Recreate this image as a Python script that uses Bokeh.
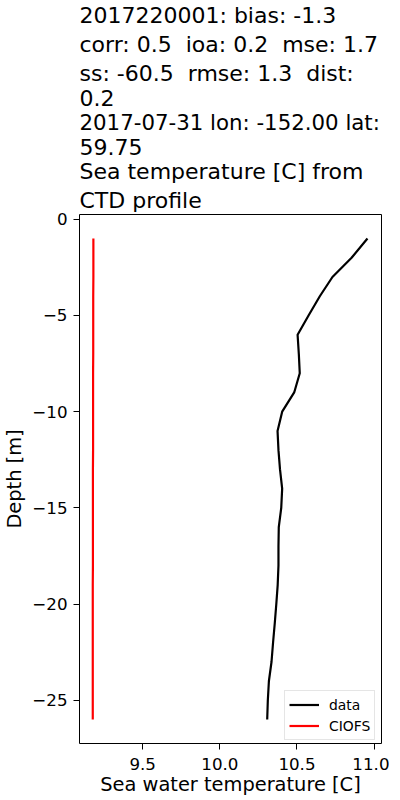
from bokeh.plotting import figure
from bokeh.models import Range1d, Title, FixedTicker, Legend, LegendItem
from bokeh.embed import file_html
from bokeh.resources import INLINE

# ---- data ----
depths = [-1, -2, -3, -4, -5, -6, -7, -8, -9, -10, -11, -12, -13,
          -14, -15, -16, -17, -18, -19, -20, -21, -22, -23, -24, -25, -26]
data_temp = [10.957, 10.854, 10.730, 10.648, 10.575, 10.504, 10.512, 10.518,
             10.482, 10.404, 10.374, 10.380, 10.390, 10.404, 10.398, 10.382,
             10.380, 10.380, 10.375, 10.366, 10.356, 10.345, 10.335, 10.318,
             10.311, 10.307]
ciofs_temp = [9.180, 9.180, 9.180, 9.179, 9.179, 9.179, 9.179, 9.178, 9.178,
              9.178, 9.178, 9.178, 9.177, 9.177, 9.177, 9.177, 9.177, 9.177,
              9.176, 9.176, 9.176, 9.176, 9.176, 9.176, 9.176, 9.176]

title_lines = ["2017220001: bias: -1.3",
               "corr: 0.5\u00a0 ioa: 0.2\u00a0 mse: 1.7",
               "ss: -60.5\u00a0 rmse: 1.3\u00a0 dist:",
               "0.2",
               "2017-07-31 lon: -152.00 lat:",
               "59.75",
               "Sea temperature [C] from",
               "CTD profile"]
title_sizes = ["22px", "22px", "22px", "22px", "21.3px", "22px", "22px", "22px"]

x_ticks = [9.5, 10.0, 10.5, 11.0]
x_tick_labels = ["9.5", "10.0", "10.5", "11.0"]
y_ticks = [0, -5, -10, -15, -20, -25]
y_tick_labels = ["0", "\u22125", "\u221210", "\u221215", "\u221220", "\u221225"]

FONT = "DejaVu Sans"

p = figure(frame_width=302, frame_height=529, output_backend="svg",
           toolbar_location=None,
           x_range=Range1d(9.090, 11.048), y_range=Range1d(-27.25, 0.25),
           title=None, min_border_left=72, min_border_right=8,
           min_border_bottom=40, min_border_top=0)

for line, size in reversed(list(zip(title_lines, title_sizes))):
    p.add_layout(Title(text=line, align="left", text_font_size=size,
                       text_font=FONT, text_font_style="normal",
                       standoff=2.1, offset=0, text_color="black"), "above")

r_data = p.line(data_temp, depths, line_color="black", line_width=2.2)
r_ciofs = p.line(ciofs_temp, depths, line_color="red", line_width=2.2)

legend = Legend(items=[LegendItem(label="data", renderers=[r_data]),
                       LegendItem(label="CIOFS", renderers=[r_ciofs])],
                location=(205, 3), margin=0, padding=4, spacing=2,
                glyph_width=30, glyph_height=19, label_standoff=10,
                label_text_font=FONT, label_text_font_size="13.9px",
                label_text_color="black",
                border_line_color="#cccccc", border_line_width=1,
                background_fill_alpha=0.8)
p.add_layout(legend, "center")

p.xgrid.visible = False
p.ygrid.visible = False
p.outline_line_color = "black"
p.outline_line_alpha = 1
p.outline_line_width = 1
p.background_fill_color = "white"

for ax, ticks, labels in ((p.xaxis[0], x_ticks, x_tick_labels),
                          (p.yaxis[0], y_ticks, y_tick_labels)):
    ax.ticker = FixedTicker(ticks=ticks, minor_ticks=[])
    ax.major_label_overrides = {t: l for t, l in zip(ticks, labels)}
    ax.major_label_text_font = FONT
    ax.major_label_text_font_size = "16.7px"
    ax.major_label_text_color = "black"
    ax.axis_label_text_font = FONT
    ax.axis_label_text_font_size = "19.4px"
    ax.axis_label_text_font_style = "normal"
    ax.axis_label_text_color = "black"
    ax.axis_line_color = None
    ax.major_tick_out = 6
    ax.major_tick_in = 0
    ax.minor_tick_out = 0
    ax.minor_tick_in = 0
    ax.major_tick_line_color = "black"

p.xaxis[0].major_label_standoff = 8
p.yaxis[0].major_label_standoff = 6
p.xaxis[0].axis_label = "Sea water temperature [C]"
p.yaxis[0].axis_label = "Depth [m]"
p.xaxis[0].axis_label_standoff = 0
p.yaxis[0].axis_label_standoff = 3

open("out.html", "w").write(file_html(p, INLINE))
